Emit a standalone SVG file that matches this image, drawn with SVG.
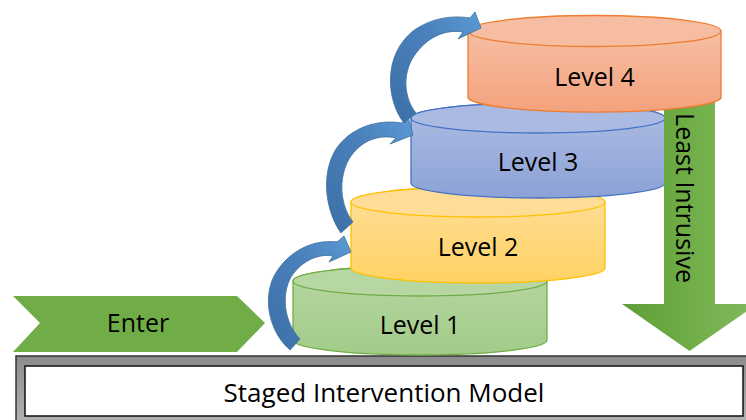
<svg xmlns="http://www.w3.org/2000/svg" width="746" height="420" viewBox="0 0 746 420">
  <style>
    .lbl { font-family: "Open Sans", "Liberation Sans", sans-serif; font-size: 25px; fill: #000; text-anchor: middle; }
    .title { font-size: 26px; }
    .cyl-edge { stroke-width: 1.3; }
    .curve { stroke: #41719C; stroke-width: 0.8; fill: url(#blueArc); }
  </style>
  <defs>
    <linearGradient id="gOrange" x1="0" y1="0" x2="0" y2="1">
      <stop offset="0" stop-color="#F7C3AA"/>
      <stop offset="1" stop-color="#F4A27C"/>
    </linearGradient>
    <linearGradient id="gBlue" x1="0" y1="0" x2="0" y2="1">
      <stop offset="0" stop-color="#AEBDE4"/>
      <stop offset="1" stop-color="#8CA2D6"/>
    </linearGradient>
    <linearGradient id="gYellow" x1="0" y1="0" x2="0" y2="1">
      <stop offset="0" stop-color="#FFDF9C"/>
      <stop offset="1" stop-color="#FFD262"/>
    </linearGradient>
    <linearGradient id="gGreen" x1="0" y1="0" x2="0" y2="1">
      <stop offset="0" stop-color="#B8D7A4"/>
      <stop offset="1" stop-color="#A2CB88"/>
    </linearGradient>
    <linearGradient id="gArrowDown" x1="0" y1="0" x2="1" y2="0">
      <stop offset="0" stop-color="#5E9E38"/>
      <stop offset="0.5" stop-color="#70AD47"/>
      <stop offset="1" stop-color="#82B95F"/>
    </linearGradient>
    <linearGradient id="blueArc" x1="0" y1="1" x2="1" y2="0">
      <stop offset="0" stop-color="#3C6FA6"/>
      <stop offset="0.6" stop-color="#4A80BC"/>
      <stop offset="1" stop-color="#5B9BD5"/>
    </linearGradient>
    <linearGradient id="gFrame" x1="0" y1="0" x2="0" y2="1">
      <stop offset="0" stop-color="#8C8C8C"/>
      <stop offset="1" stop-color="#B4B4B4"/>
    </linearGradient>
  </defs>

  <!-- base plate -->
  <g id="base">
    <rect x="16" y="356" width="740" height="70" fill="url(#gFrame)" stroke="#333" stroke-width="1.5"/>
    <rect x="25" y="366" width="718" height="50" fill="#fff" stroke="#111" stroke-width="1.5"/>
    <text class="lbl title" x="384" y="402">Staged Intervention Model</text>
  </g>

  <!-- entry chevron -->
  <g id="enter">
    <polygon points="13,296 237,296 265,323 237,352 13,352 40,323" fill="#70AD47"/>
    <text class="lbl" x="138" y="332">Enter</text>
  </g>

  <!-- level 1 -->
  <g id="level1">
    <path class="cyl-edge" d="M293,281 V340 A127,15 0 0 0 547,340 V281 A127,15 0 0 0 293,281 Z" fill="url(#gGreen)" stroke="#70AD47"/>
    <ellipse class="cyl-edge" cx="420" cy="281" rx="127" ry="15" fill="#B6D6A2" stroke="#70AD47"/>
    <text class="lbl" x="420" y="334">Level 1</text>
  </g>

  <!-- level 2 -->
  <g id="level2">
    <path class="cyl-edge" d="M351,202 V268 A127,15 0 0 0 605,268 V202 A127,15 0 0 0 351,202 Z" fill="url(#gYellow)" stroke="#FFC000"/>
    <ellipse class="cyl-edge" cx="478" cy="202" rx="127" ry="15" fill="#FFDD97" stroke="#FFC000"/>
    <text class="lbl" x="478" y="256">Level 2</text>
  </g>

  <!-- level 3 -->
  <g id="level3">
    <path class="cyl-edge" d="M411,118 V183 A127,15 0 0 0 665,183 V118 A127,15 0 0 0 411,118 Z" fill="url(#gBlue)" stroke="#4472C4"/>
    <ellipse class="cyl-edge" cx="538" cy="118" rx="127" ry="15" fill="#ABBAE2" stroke="#4472C4"/>
    <text class="lbl" x="538" y="171">Level 3</text>
  </g>

  <!-- direction arrow, tucked under level 4 -->
  <g id="least-intrusive">
    <polygon points="664,95 715,95 715,304 757,304 689.5,351 622,304 664,304" fill="url(#gArrowDown)"/>
    <text class="lbl" transform="translate(676,198) rotate(90)">Least Intrusive</text>
  </g>

  <!-- level 4 -->
  <g id="level4">
    <path class="cyl-edge" d="M468,31 V98 A127,15.5 0 0 0 721,98 V31 A127,15.5 0 0 0 468,31 Z" fill="url(#gOrange)" stroke="#ED7D31"/>
    <ellipse class="cyl-edge" cx="594.5" cy="31" rx="126.5" ry="15.5" fill="#F6BDA2" stroke="#ED7D31"/>
    <text class="lbl" x="594.5" y="86">Level 4</text>
  </g>

  <!-- step-up arrows between levels -->
  <g id="connectors">
    <path class="curve" d="M290,350 C270,333 262,300 274,276 C287,252 312,239 337,242 L344,236 L351,252 L329,262 L333,256 C316,253 300,263 291,277 C281,295 284,322 300,339 Z"/>
    <path class="curve" d="M341,233 C326,212 320,175 336,149 C351,127 378,119 402,123 L408,117 L413,135 L390,144 L396,138 C378,134 360,141 349,159 C338,179 340,205 353,222 Z"/>
    <path class="curve" d="M404,123 C386,100 383,55 413,31 C431,18 452,15 470,18 L475,12 L481,28 L458,39 L463,32 C445,29 427,37 414,56 C402,74 404,98 416,113 Z"/>
  </g>
</svg>
